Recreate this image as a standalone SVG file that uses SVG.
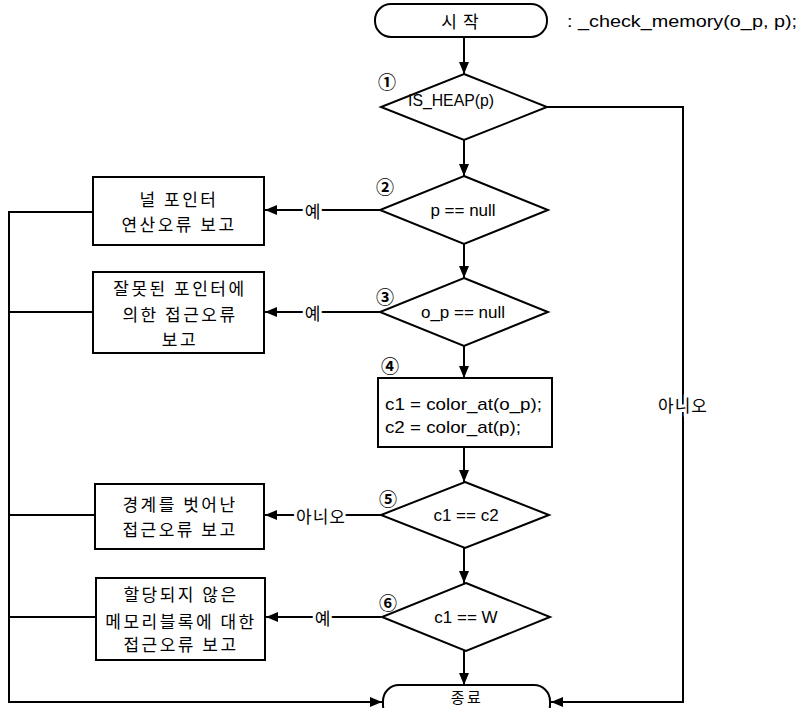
<svg xmlns="http://www.w3.org/2000/svg" width="801" height="708" viewBox="0 0 801 708">
<defs>
<marker id="ah" viewBox="0 0 12 10" refX="12" refY="5" markerWidth="12" markerHeight="10" markerUnits="userSpaceOnUse" orient="auto">
<path d="M0,0 L12,5 L0,10 Z" fill="#000"/>
</marker>
<style>
.shape{fill:#fff;stroke:#000;stroke-width:2}
.ln{fill:none;stroke:#000;stroke-width:2}
.t{font-family:"Liberation Sans","Noto Sans CJK KR",Arial,sans-serif;font-size:17px;fill:#000;text-anchor:middle;dominant-baseline:central}
.k{font-family:"Noto Sans CJK KR","Liberation Sans",sans-serif;font-size:17px;fill:#000;text-anchor:middle;dominant-baseline:central;letter-spacing:2.5px}
.lab{font-family:"Noto Sans CJK KR","Liberation Sans",sans-serif;font-size:17px;fill:#000;text-anchor:middle;dominant-baseline:central;stroke:#fff;stroke-width:6px;paint-order:stroke;letter-spacing:1px}
.num{font-family:"Noto Sans CJK KR","DejaVu Sans",sans-serif;font-size:18px;font-weight:bold;fill:#000;text-anchor:middle;dominant-baseline:central}
</style>
</defs>

<g id="connectors">
<line class="ln" x1="464" y1="37" x2="464" y2="74" marker-end="url(#ah)"/>
<line class="ln" x1="464" y1="140" x2="464" y2="176" marker-end="url(#ah)"/>
<line class="ln" x1="464" y1="244" x2="464" y2="278" marker-end="url(#ah)"/>
<line class="ln" x1="464" y1="346" x2="464" y2="378" marker-end="url(#ah)"/>
<line class="ln" x1="464" y1="447" x2="464" y2="482" marker-end="url(#ah)"/>
<line class="ln" x1="464" y1="548" x2="464" y2="583" marker-end="url(#ah)"/>
<line class="ln" x1="464" y1="651" x2="464" y2="685" marker-end="url(#ah)"/>
<polyline class="ln" points="547,107 683,107 683,702 551,702" marker-end="url(#ah)"/>
<line class="ln" x1="380" y1="210" x2="265" y2="210" marker-end="url(#ah)"/>
<line class="ln" x1="380" y1="312" x2="265" y2="312" marker-end="url(#ah)"/>
<line class="ln" x1="381" y1="515" x2="265" y2="515" marker-end="url(#ah)"/>
<line class="ln" x1="381" y1="617" x2="266" y2="617" marker-end="url(#ah)"/>
<polyline class="ln" points="93,212 9,212 9,702 382,702" marker-end="url(#ah)"/>
<line class="ln" x1="9" y1="312" x2="93" y2="312"/>
<line class="ln" x1="9" y1="515" x2="95" y2="515"/>
<line class="ln" x1="9" y1="617" x2="96" y2="617"/>
<text class="lab" x="683" y="404">아니오</text>
<text class="lab" x="313" y="210">예</text>
<text class="lab" x="313" y="312">예</text>
<text class="lab" x="321" y="515">아니오</text>
<text class="lab" x="323" y="617">예</text>
</g>

<g id="start">
<rect class="shape" x="375" y="4" width="172" height="33" rx="16"/>
<text class="k" x="463" y="20" style="letter-spacing:6px">시작</text>
</g>
<text class="t" x="682" y="21" textLength="230" lengthAdjust="spacingAndGlyphs">:  _check_memory(o_p, p);</text>

<g id="d1">
<polygon class="shape" points="464,74 547,107 464,140 381,107"/>
<text class="t" x="451" y="100" textLength="86" lengthAdjust="spacingAndGlyphs">IS_HEAP(p)</text>
<text class="num" x="387" y="81">①</text>
</g>

<g id="d2">
<polygon class="shape" points="464,176 548,210 464,244 380,210"/>
<text class="t" x="463" y="210">p == null</text>
<text class="num" x="385" y="186">②</text>
</g>

<g id="d3">
<polygon class="shape" points="464,278 548,312 464,346 380,312"/>
<text class="t" x="463" y="312">o_p == null</text>
<text class="num" x="385" y="296">③</text>
</g>

<g id="p4">
<rect class="shape" x="378" y="378" width="174" height="69"/>
<text class="t" x="385" y="404" style="text-anchor:start" textLength="157" lengthAdjust="spacingAndGlyphs">c1 = color_at(o_p);</text>
<text class="t" x="385" y="427" style="text-anchor:start" textLength="136" lengthAdjust="spacingAndGlyphs">c2 = color_at(p);</text>
<text class="num" x="390" y="365">④</text>
</g>

<g id="d5">
<polygon class="shape" points="465,482 549,515 465,548 381,515"/>
<text class="t" x="466" y="515">c1 == c2</text>
<text class="num" x="388" y="498">⑤</text>
</g>

<g id="d6">
<polygon class="shape" points="466,583 550,617 466,651 382,617"/>
<text class="t" x="466" y="617">c1 == W</text>
<text class="num" x="388" y="602">⑥</text>
</g>

<g id="end">
<rect class="shape" x="383" y="685" width="167" height="36" rx="16"/>
<text class="k" x="467" y="696" style="font-size:15px">종료</text>
</g>

<g id="b1">
<rect class="shape" x="93" y="177" width="171" height="68"/>
<text class="k" x="179" y="198">널 포인터</text>
<text class="k" x="179" y="223">연산오류 보고</text>
</g>

<g id="b2">
<rect class="shape" x="93" y="272" width="171" height="81"/>
<text class="k" x="180" y="287">잘못된 포인터에</text>
<text class="k" x="180" y="313">의한 접근오류</text>
<text class="k" x="180" y="338">보고</text>
</g>

<g id="b3">
<rect class="shape" x="95" y="484" width="169" height="65"/>
<text class="k" x="180" y="503">경계를 벗어난</text>
<text class="k" x="180" y="528">접근오류 보고</text>
</g>

<g id="b4">
<rect class="shape" x="96" y="578" width="169" height="82"/>
<text class="k" x="181" y="593">할당되지 않은</text>
<text class="k" x="181" y="620">메모리블록에 대한</text>
<text class="k" x="181" y="643">접근오류 보고</text>
</g>
</svg>
